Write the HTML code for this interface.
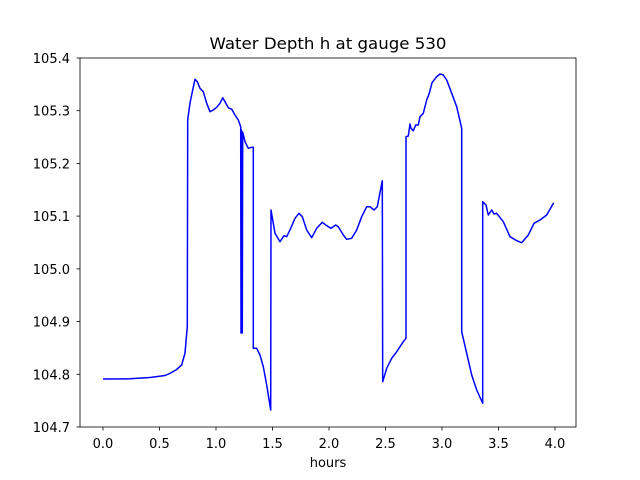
<!DOCTYPE html>
<html><head><meta charset="utf-8"><style>body{margin:0;background:#fff}svg{display:block}text{font-family:"DejaVu Sans","Liberation Sans",sans-serif;font-size:13px;fill:#000}</style></head><body>
<svg width="640" height="480" viewBox="0 0 640 480">
<rect width="640" height="480" fill="#fff"/>
<polyline fill="none" stroke="#0000ff" stroke-width="1.5" stroke-linejoin="round" points="103,379 130,378.8 150,377.5 165,375.5 170,373.3 176,370 181.7,365 185,353 187.3,326.7 187.7,120 190,103 192.7,90 195,79.3 197.3,81.7 200,88.3 203.3,91.7 206.7,103.3 210,111.7 213.3,110 216.7,107.3 220,103.3 222.7,97.7 225,101.7 228.3,107.7 231.7,109.3 235,115 238.3,120 240.7,126.7 241,333 241.5,130 242.3,333 242.7,132 245,141.7 248.3,148.3 251.7,147.3 253.3,147.3 253.3,348.3 256.7,348.3 260,355 263.3,366.7 266.7,385 270.7,410 271,210 275,233.3 280,241.7 284,235.7 286.7,236.7 290.7,228.3 295,218.3 299,213.3 302.3,216.7 306.7,230 311.7,237.7 316.7,228.3 322.3,222.3 326.7,225.7 331,228.3 335.7,225 338.3,226.7 343.3,235 346.7,239.3 351.7,238.3 356.7,230 361.7,216.7 366.7,206.7 370,206.7 374,210 377.3,206.7 382.3,180.7 382.7,381.7 386.7,368.3 391.7,358.3 396.7,351.7 403.3,341.7 406,338.3 406,136.7 408.3,136 410,124 411,128.3 413.3,130.7 415.7,125 418.3,125 420,116.7 423.3,113.3 426.7,100 429.3,93.3 432,82.7 436.7,76.7 440,74 443.3,75 446.7,80 451.7,93.3 456.7,106.7 461.7,128.3 461.7,331.7 466.7,353.3 471.7,375 476.7,390 482.7,403.3 482.7,201.7 486,205 488.3,215 491.7,210 494,214 496.7,213.3 503.3,221.7 510,236.7 516.7,240.7 521.7,242.7 528.3,235 534,223.3 540,220 546.7,215 553.7,202.7"/>
<rect x="80" y="58" width="496" height="369" fill="none" stroke="#000" stroke-width="0.8"/>
<g stroke="#000" stroke-width="0.8">
<line x1="103" y1="427" x2="103" y2="430.5"/><line x1="159.5" y1="427" x2="159.5" y2="430.5"/><line x1="216" y1="427" x2="216" y2="430.5"/><line x1="272.5" y1="427" x2="272.5" y2="430.5"/><line x1="329" y1="427" x2="329" y2="430.5"/><line x1="385.5" y1="427" x2="385.5" y2="430.5"/><line x1="442" y1="427" x2="442" y2="430.5"/><line x1="498.5" y1="427" x2="498.5" y2="430.5"/><line x1="555" y1="427" x2="555" y2="430.5"/>
<line x1="76.5" y1="427" x2="80" y2="427"/><line x1="76.5" y1="374.3" x2="80" y2="374.3"/><line x1="76.5" y1="321.6" x2="80" y2="321.6"/><line x1="76.5" y1="268.9" x2="80" y2="268.9"/><line x1="76.5" y1="216.1" x2="80" y2="216.1"/><line x1="76.5" y1="163.4" x2="80" y2="163.4"/><line x1="76.5" y1="110.7" x2="80" y2="110.7"/><line x1="76.5" y1="58" x2="80" y2="58"/>
</g>
<g text-anchor="middle">
<text x="103" y="448">0.0</text><text x="159.5" y="448">0.5</text><text x="216" y="448">1.0</text><text x="272.5" y="448">1.5</text><text x="329" y="448">2.0</text><text x="385.5" y="448">2.5</text><text x="442" y="448">3.0</text><text x="498.5" y="448">3.5</text><text x="555" y="448">4.0</text>
<text x="328" y="467">hours</text>
<text x="328" y="49" style="font-size:16px" textLength="237" lengthAdjust="spacingAndGlyphs">Water Depth h at gauge 530</text>
</g>
<g text-anchor="end">
<text x="70" y="432">104.7</text><text x="70" y="379.3">104.8</text><text x="70" y="326.6">104.9</text><text x="70" y="273.9">105.0</text><text x="70" y="221.1">105.1</text><text x="70" y="168.4">105.2</text><text x="70" y="115.7">105.3</text><text x="70" y="63">105.4</text>
</g>
</svg>
</body></html>
